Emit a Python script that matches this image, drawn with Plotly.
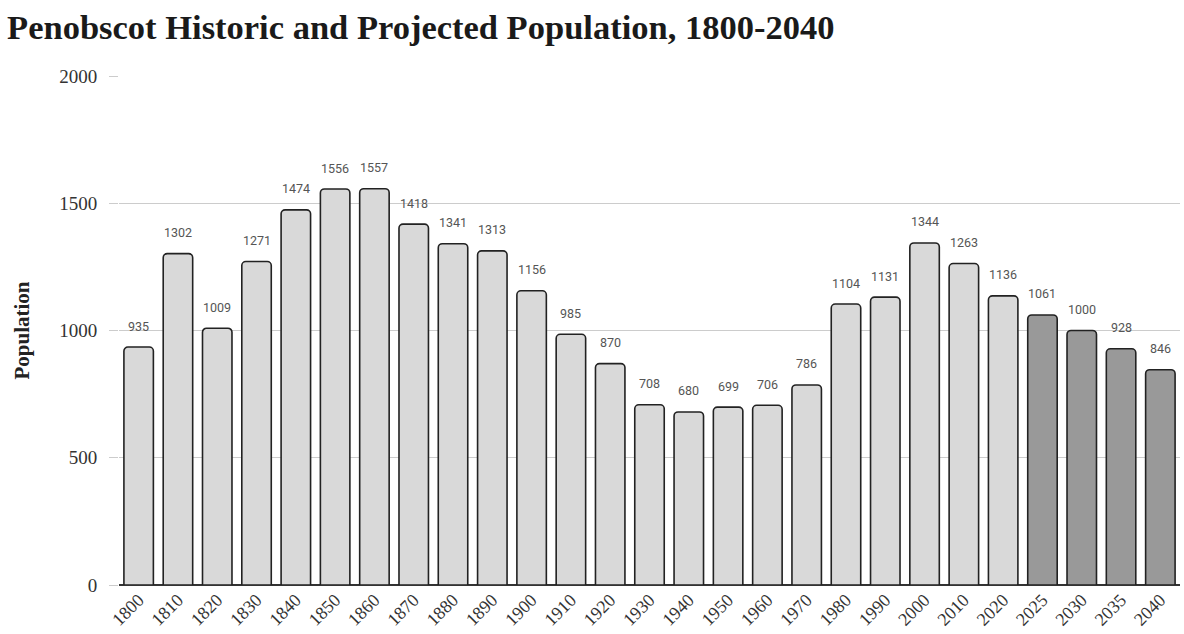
import plotly.graph_objects as go

years = ["1800", "1810", "1820", "1830", "1840", "1850", "1860", "1870", "1880", "1890",
         "1900", "1910", "1920", "1930", "1940", "1950", "1960", "1970", "1980", "1990",
         "2000", "2010", "2020", "2025", "2030", "2035", "2040"]
population = [935, 1302, 1009, 1271, 1474, 1556, 1557, 1418, 1341, 1313,
              1156, 985, 870, 708, 680, 699, 706, 786, 1104, 1131,
              1344, 1263, 1136, 1061, 1000, 928, 846]
projected = {"2025", "2030", "2035", "2040"}

SERIF = "Liberation Serif, Times New Roman, serif"
colors = ["#999999" if y in projected else "#d9d9d9" for y in years]

fig = go.Figure(go.Bar(
    x=years,
    y=population,
    marker=dict(color=colors, line=dict(color="#222222", width=1.6)),
    hoverinfo="x+y",
))

# value labels floating above each bar (category axis: x given as category index)
for i, val in enumerate(population):
    fig.add_annotation(
        x=i, y=val, text=str(val), showarrow=False,
        yanchor="middle", yshift=21,
        font=dict(family="Roboto, Arial, sans-serif", size=12.5, color="#555555"),
    )

fig.update_layout(
    width=1184, height=634,
    margin=dict(l=119, r=4, t=76, b=49),
    plot_bgcolor="white", paper_bgcolor="white",
    bargap=0.25,
    barcornerradius=4,
    showlegend=False,
    title=dict(
        text="<b>Penobscot Historic and Projected Population, 1800-2040</b>",
        x=0.006, xanchor="left", y=0.958, yanchor="middle",
        font=dict(family=SERIF, size=34.5, color="#1a1a1a"),
    ),
)

fig.update_yaxes(
    range=[0, 2000], tickvals=[0, 500, 1000, 1500, 2000],
    showgrid=True, gridcolor="#cccccc", gridwidth=1,
    zeroline=True, zerolinecolor="#333333", zerolinewidth=1.5,
    ticks="outside", ticklen=9, tickcolor="#cccccc",
    ticklabelstandoff=8,
    tickfont=dict(family=SERIF, size=19, color="#333333"),
    title=dict(text="<b>Population</b>", standoff=23,
               font=dict(family=SERIF, size=21, color="#222222")),
)

fig.update_xaxes(
    type="category",
    tickangle=-45, showgrid=False,
    tickfont=dict(family=SERIF, size=18, color="#333333"),
)

fig.write_html("out.html")
